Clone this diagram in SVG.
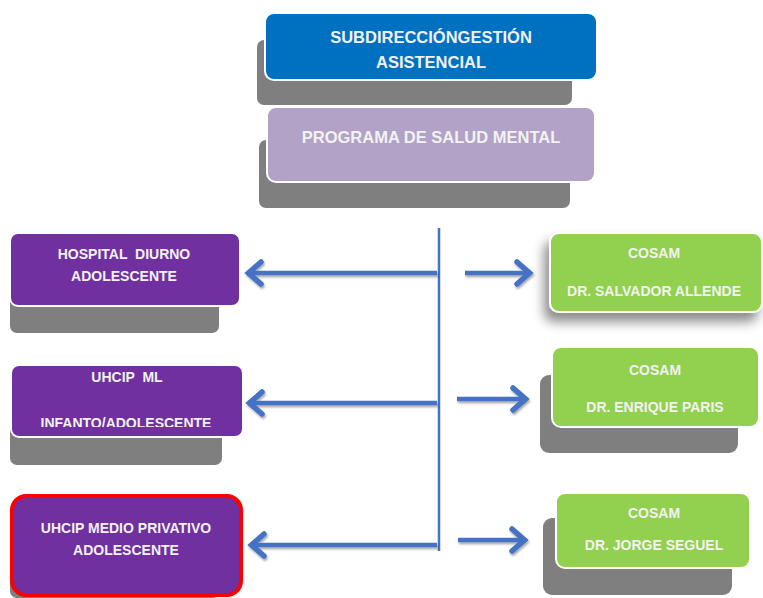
<svg xmlns="http://www.w3.org/2000/svg" width="763" height="598" viewBox="0 0 763 598">
<defs>
<style>
.sh{fill:#7F7F7F}
.bx{stroke:#FFFFFF;stroke-width:2}
.t{font-family:"Liberation Sans",Arial,sans-serif;font-weight:bold;fill:#F2F2F2;text-anchor:middle;white-space:pre}
.tb{font-size:16.5px}
.ts{font-size:14px}
.ar{stroke:#4472C4;stroke-width:4.5;fill:none;marker-end:url(#head)}
</style>
<marker id="head" markerUnits="userSpaceOnUse" markerWidth="30" markerHeight="30" refX="0" refY="0" viewBox="-20 -15 30 30" orient="auto" overflow="visible">
<path d="M-14,-11 L-1.5,0 L-14,11" fill="none" stroke="#4472C4" stroke-width="5.5" stroke-linecap="round" stroke-linejoin="miter"/>
</marker>
<filter id="ash" filterUnits="userSpaceOnUse" x="0" y="0" width="763" height="598">
<feDropShadow dx="1" dy="2" stdDeviation="1" flood-color="#000" flood-opacity="0.35"/>
</filter>
<filter id="soft" x="-30%" y="-30%" width="160%" height="180%">
<feDropShadow dx="-5" dy="9" stdDeviation="6" flood-color="#000" flood-opacity="0.45"/>
</filter>
<clipPath id="clip2"><rect x="0" y="360" width="260" height="67"/></clipPath>
</defs>
<rect width="763" height="598" fill="#FFFFFF"/>

<g id="subdireccion">
<rect class="sh" x="257" y="40" width="315" height="65" rx="7"/>
<rect class="bx" x="265" y="13" width="332" height="67" rx="9" fill="#0070C0"/>
<text class="t tb" x="431" y="43">SUBDIRECCIÓNGESTIÓN</text>
<text class="t tb" x="431" y="68">ASISTENCIAL</text>
</g>

<g id="programa">
<rect class="sh" x="259" y="140" width="311" height="68" rx="7"/>
<rect class="bx" x="267" y="107" width="328" height="75" rx="9" fill="#B3A2C7"/>
<text class="t tb" x="431" y="143">PROGRAMA DE SALUD MENTAL</text>
</g>

<g id="hospital-diurno">
<rect class="sh" x="10" y="290" width="209" height="43" rx="7"/>
<rect class="bx" x="10" y="233" width="230" height="73" rx="8" fill="#7030A0"/>
<text class="t ts" x="124" y="259">HOSPITAL  DIURNO</text>
<text class="t ts" x="124" y="281">ADOLESCENTE</text>
</g>

<g id="uhcip-ml">
<rect class="sh" x="10" y="420" width="212" height="45" rx="7"/>
<rect class="bx" x="11" y="365" width="232" height="72" rx="8" fill="#7030A0"/>
<text class="t ts" x="127" y="382">UHCIP  ML</text>
<g clip-path="url(#clip2)"><text class="t ts" x="126" y="428">INFANTO/ADOLESCENTE</text></g>
</g>

<g id="uhcip-medio-privativo">
<rect class="sh" x="10" y="560" width="210" height="38" rx="7"/>
<rect x="12" y="496" width="229" height="99" rx="14" fill="#7030A0" stroke="#FF0000" stroke-width="4"/>
<text class="t ts" x="126" y="533">UHCIP MEDIO PRIVATIVO</text>
<text class="t ts" x="126" y="555">ADOLESCENTE</text>
</g>

<g id="cosam-salvador-allende">
<rect class="bx" x="550" y="233" width="212" height="79" rx="9" fill="#92D050" filter="url(#soft)"/>
<text class="t ts" x="654" y="258">COSAM</text>
<text class="t ts" x="654" y="296">DR. SALVADOR ALLENDE</text>
</g>

<g id="cosam-enrique-paris">
<rect class="sh" x="540" y="375" width="198" height="78" rx="9"/>
<rect class="bx" x="552" y="347" width="207" height="80" rx="9" fill="#92D050"/>
<text class="t ts" x="655" y="375">COSAM</text>
<text class="t ts" x="655" y="412">DR. ENRIQUE PARIS</text>
</g>

<g id="cosam-jorge-seguel">
<rect class="sh" x="543" y="518" width="189" height="77" rx="9"/>
<rect class="bx" x="556" y="493" width="194" height="75" rx="9" fill="#92D050"/>
<text class="t ts" x="654" y="518">COSAM</text>
<text class="t ts" x="654" y="550">DR. JORGE SEGUEL</text>
</g>

<g id="connectors">
<line x1="439" y1="228" x2="439" y2="551" stroke="#4472C4" stroke-width="2.5"/>
<g filter="url(#ash)">
<path class="ar" d="M437,273 L247,273"/>
<path class="ar" d="M437,403 L248,403"/>
<path class="ar" d="M437,545 L250,545"/>
<path class="ar" d="M465,273 L531,273"/>
<path class="ar" d="M457,399 L527,399"/>
<path class="ar" d="M458,540 L526,540"/>
</g>
</g>
</svg>
